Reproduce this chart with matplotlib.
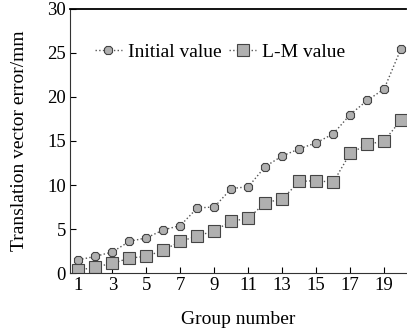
import matplotlib.pyplot as plt

plt.rcParams['font.family'] = ['Liberation Serif', 'DejaVu Serif']

groups = list(range(1, 21))
initial = [1.5, 1.9, 2.4, 3.6, 4.0, 4.9, 5.4, 7.4, 7.5, 9.6,
           9.8, 12.1, 13.3, 14.1, 14.8, 15.8, 18.0, 19.6, 20.9, 25.5]
lm = [0.3, 0.7, 1.1, 1.7, 1.9, 2.6, 3.6, 4.2, 4.8, 5.9,
      6.2, 8.0, 8.4, 10.4, 10.5, 10.3, 13.6, 14.6, 15.0, 17.4]
xticks = [1, 3, 5, 7, 9, 11, 13, 15, 17, 19]
yticks = [0, 5, 10, 15, 20, 25, 30]

fig = plt.figure(figsize=(4.07, 3.29), dpi=100)
ax = fig.add_axes([0.172, 0.170, 0.826, 0.803])

ax.plot(groups, initial, linestyle=':', color='#555555', linewidth=1,
        marker='8', markersize=6.5, markerfacecolor='#b0b0b0',
        markeredgecolor='#444444', markeredgewidth=0.8, label='Initial value')
ax.plot(groups, lm, linestyle=':', color='#555555', linewidth=1,
        marker='s', markersize=8.5, markerfacecolor='#b0b0b0',
        markeredgecolor='#444444', markeredgewidth=0.8, label='L-M value')

ax.set_xlim(0.5, 20.3)
ax.set_ylim(0, 30)
ax.set_xticks(xticks)
ax.set_yticks(yticks)
ax.tick_params(direction='in', labelsize=13.5, length=4, width=0.8, pad=3)

ax.spines['right'].set_visible(False)
ax.spines['top'].set_linewidth(1.3)
ax.spines['left'].set_color('#333333')
ax.spines['bottom'].set_color('#333333')

ax.set_xlabel('Group number', fontsize=14, labelpad=12)
ax.set_ylabel('Translation vector error/mm', fontsize=14, labelpad=14)

ax.legend(loc='upper left', bbox_to_anchor=(0.05, 0.9), ncol=2, frameon=False,
          fontsize=14, handlelength=1.4, handletextpad=0.3, columnspacing=0.4,
          borderaxespad=0)

plt.savefig('out.png')
plt.close()
